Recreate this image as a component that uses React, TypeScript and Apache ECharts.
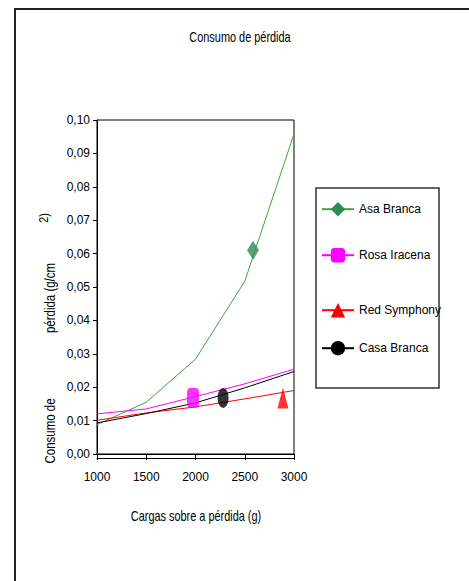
import React, { useEffect, useRef } from "react";
import * as echarts from "echarts";

const loads = [1000, 1500, 2000, 2500, 3000];
const asaBranca = [0.0088, 0.0155, 0.0284, 0.0517, 0.0958];
const rosaIracena = [0.012, 0.0135, 0.0172, 0.021, 0.0254];
const redSymphony = [0.0101, 0.0123, 0.0141, 0.0165, 0.019];
const casaBranca = [0.0093, 0.0121, 0.0153, 0.0198, 0.0247];

const markerAsa = [2584, 0.061];
const markerRosa = [1975, 0.0168];
const markerRed = [2888, 0.0168];
const markerCasa = [2280, 0.0168];

const names = ["Asa Branca", "Rosa Iracena", "Red Symphony", "Casa Branca"];
const FONT = "'Liberation Sans', Arial, sans-serif";
const ELLIPSE = "path://M5.5,0 A5.5,10 0 1,0 5.5,20 A5.5,10 0 1,0 5.5,0 Z";

export default function App() {
  const ref = useRef<HTMLDivElement>(null);
  useEffect(() => {
    const chart = echarts.init(ref.current!, null, { renderer: "svg" });
    const pair = (ys: number[]) => loads.map((x, i) => [x, ys[i]]);
    const lineSeries = (name: string, ys: number[], color: string, markColor: string, symbol: string) => ({
      type: "line",
      name,
      data: pair(ys),
      showSymbol: false,
      symbol,
      lineStyle: { color, width: 1 },
      itemStyle: { color: markColor },
      z: 2,
    });
    const markSeries = (name: string, p: number[], color: string, symbol: string, size: number[]) => ({
      type: "scatter",
      name,
      data: [p],
      symbol,
      symbolSize: size,
      itemStyle: { color },
      z: 3,
    });
    const legendAt = (name: string, top: number, left: number) => ({
      data: [name],
      top,
      left,
      orient: "vertical",
      itemWidth: 32,
      itemHeight: 18,
      itemGap: 4,
      textStyle: { fontFamily: FONT, fontSize: 12, color: "#000" },
    });
    const txt = (text: string, x: number, y: number, size: number, rot: number, sx: number) => ({
      type: "text",
      x,
      y,
      rotation: rot,
      scaleX: sx,
      style: {
        text,
        fontFamily: FONT,
        fontSize: size,
        fill: "#000",
        align: "center",
        verticalAlign: "middle",
      },
      silent: true,
    });
    chart.setOption({
      animation: false,
      backgroundColor: "#fff",
      legend: [
        legendAt(names[0], 197, 316),
        legendAt(names[1], 243, 316),
        legendAt(names[2], 298, 316),
        legendAt(names[3], 336, 316),
      ],
      grid: {
        left: 97,
        top: 120,
        width: 197,
        height: 334,
        show: true,
        borderColor: "#000",
        borderWidth: 1,
        backgroundColor: "transparent",
      },
      xAxis: [
        {
          type: "value",
          min: 1000,
          max: 3000,
          interval: 500,
          axisLine: { lineStyle: { color: "#000", width: 1 } },
          axisTick: { length: 6, lineStyle: { color: "#000" } },
          axisLabel: {
            margin: 17,
            fontFamily: FONT,
            fontSize: 12,
            color: "#000",
            formatter: (v: number) => String(v),
          },
          splitLine: { show: false },
        },
        {
          type: "value",
          min: 1000,
          max: 3000,
          interval: 500,
          position: "bottom",
          offset: 4,
          axisLine: { lineStyle: { color: "#000", width: 1 } },
          axisTick: { show: false },
          axisLabel: { show: false },
          splitLine: { show: false },
        },
      ],
      yAxis: {
        type: "value",
        min: 0,
        max: 0.1,
        interval: 0.01,
        axisLine: { show: true, lineStyle: { color: "#000" } },
        axisTick: { show: true, length: 4, lineStyle: { color: "#000" } },
        axisLabel: {
          margin: 7,
          fontFamily: FONT,
          fontSize: 12,
          color: "#000",
          formatter: (v: number) => v.toFixed(2).replace(".", ","),
        },
        splitLine: { show: false },
      },
      graphic: [
        {
          type: "rect",
          shape: { x: 15, y: 9, width: 480, height: 600 },
          style: { fill: "none", stroke: "#222", lineWidth: 2 },
          silent: true,
        },
        {
          type: "rect",
          shape: { x: 316, y: 188, width: 123, height: 200 },
          style: { fill: "none", stroke: "#333", lineWidth: 1.5 },
          silent: true,
        },
        txt("Consumo de pérdida", 240, 38, 14, 0, 0.78),
        txt("Cargas sobre a pérdida (g)", 196, 517, 14, 0, 0.78),
        txt("Consumo de", 50, 431, 14, Math.PI / 2, 0.82),
        txt("pérdida (g/cm", 50, 298, 14, Math.PI / 2, 0.82),
        txt("2)", 44, 218, 12, Math.PI / 2, 0.9),
      ],
      series: [
        lineSeries(names[0], asaBranca, "#3fa33f", "#2e8b57", "diamond"),
        lineSeries(names[1], rosaIracena, "#ff00ff", "#ff00ff", "roundRect"),
        lineSeries(names[2], redSymphony, "#ff0000", "#ff0000", "triangle"),
        lineSeries(names[3], casaBranca, "#000000", "#000000", ELLIPSE),
        markSeries(names[0], markerAsa, "#2e8b57", "diamond", [12, 19]),
        markSeries(names[1], markerRosa, "#ff00ff", "roundRect", [12, 20]),
        markSeries(names[2], markerRed, "#ff0000", "triangle", [11, 21]),
        markSeries(names[3], markerCasa, "#000000", ELLIPSE, [11, 20]),
      ],
    });
    return () => chart.dispose();
  }, []);
  return (
    <div
      ref={ref}
      style={{ position: "absolute", left: 0, top: 0, width: 469, height: 581 }}
    />
  );
}
